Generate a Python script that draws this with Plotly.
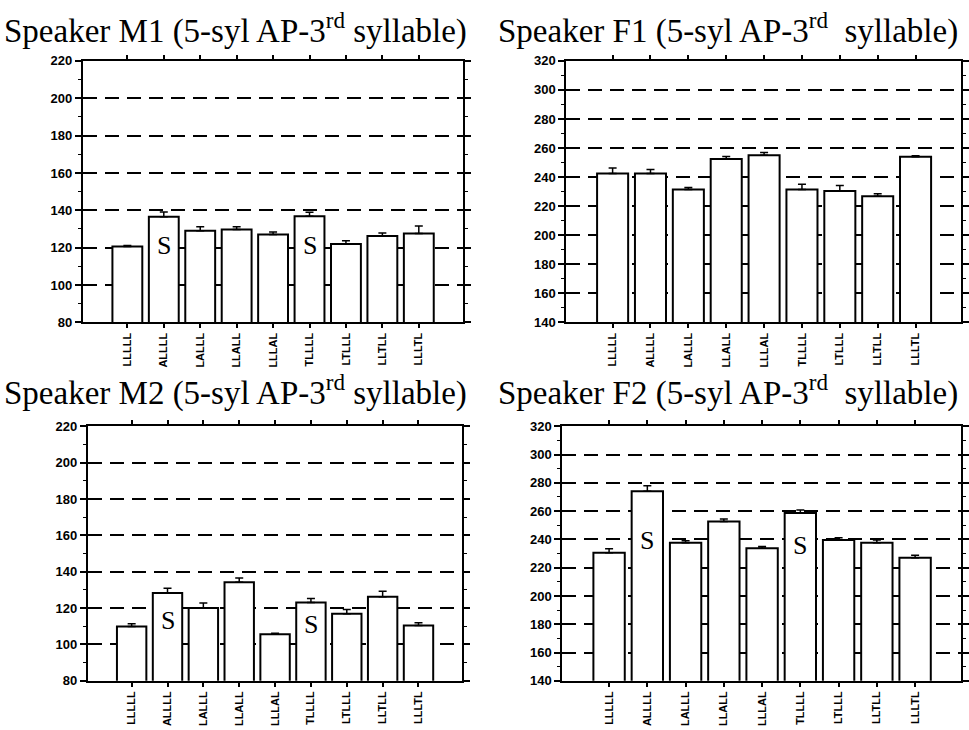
import plotly.graph_objects as go

W, H = 969, 730

categories = ["LLLLL", "ALLLL", "LALLL", "LLALL", "LLLAL", "TLLLL", "LTLLL", "LLTLL", "LLLTL"]

m1_mean = [120.6, 136.5, 129.0, 129.7, 127.1, 136.8, 122.0, 126.2, 127.6]
m1_err = [0.5, 2.6, 2.2, 1.5, 1.3, 2.2, 1.7, 1.7, 4.0]
f1_mean = [242.4, 242.4, 231.4, 252.4, 255.0, 231.4, 230.5, 226.9, 254.0]
f1_err = [3.8, 2.9, 1.4, 1.7, 1.9, 3.6, 3.8, 1.7, 0.7]
m2_mean = [109.9, 128.3, 120.0, 134.2, 105.6, 123.1, 116.9, 126.3, 110.4]
m2_err = [1.5, 2.6, 2.8, 2.4, 0.6, 2.2, 2.4, 2.9, 1.5]
f2_mean = [230.5, 274.0, 237.6, 252.6, 233.8, 258.6, 239.5, 237.6, 227.1]
f2_err = [2.9, 4.0, 1.4, 1.9, 1.2, 2.1, 1.7, 1.9, 1.7]

m1_s = [("ALLLL", 121), ("TLLLL", 121)]
f1_s = []
m2_s = [("ALLLL", 113), ("TLLLL", 111)]
f2_s = [("ALLLL", 239), ("TLLLL", 236)]

titles = [
    "Speaker M1 (5-syl AP-3<sup>rd</sup> syllable)",
    "Speaker F1 (5-syl AP-3<sup>rd</sup>  syllable)",
    "Speaker M2 (5-syl AP-3<sup>rd</sup> syllable)",
    "Speaker F2 (5-syl AP-3<sup>rd</sup>  syllable)",
]

# panel geometry in pixels: (x0, x1, ytop, ybottom), y range, title pos
panels = [
    dict(mean=m1_mean, err=m1_err, s=m1_s, box=(83, 463, 55, 322), yr=(80, 220), title=titles[0], tpos=(2, 22)),
    dict(mean=f1_mean, err=f1_err, s=f1_s, box=(567, 962, 55, 322), yr=(140, 320), title=titles[1], tpos=(497, 22)),
    dict(mean=m2_mean, err=m2_err, s=m2_s, box=(88, 462, 428, 688), yr=(80, 220), title=titles[2], tpos=(2, 392)),
    dict(mean=f2_mean, err=f2_err, s=f2_s, box=(563, 962, 428, 688), yr=(140, 320), title=titles[3], tpos=(497, 392)),
]

fig = go.Figure()
layout = dict(width=W, height=H, margin=dict(l=0, r=0, t=0, b=0), autosize=False,
              paper_bgcolor="white", plot_bgcolor="white", showlegend=False,
              bargap=0.18, annotations=[])

for i, p in enumerate(panels):
    n = i + 1
    xa = "x" if n == 1 else f"x{n}"
    ya = "y" if n == 1 else f"y{n}"
    fig.add_trace(go.Bar(
        x=categories, y=p["mean"], xaxis=xa, yaxis=ya,
        marker=dict(color="white", line=dict(color="black", width=2)),
        error_y=dict(type="data", symmetric=False, array=p["err"],
                     arrayminus=[0] * len(p["err"]), color="black",
                     thickness=1.5, width=4),
    ))
    x0, x1, yt, yb = p["box"]
    xkey = "xaxis" if n == 1 else f"xaxis{n}"
    ykey = "yaxis" if n == 1 else f"yaxis{n}"
    layout[xkey] = dict(
        domain=[x0 / W, x1 / W], anchor=ya, type="category",
        range=[-1.22, 9.2], showline=True, linecolor="black", linewidth=2,
        mirror="ticks", ticks="outside", ticklen=4, tickwidth=1.5, tickcolor="black",
        tickangle=-90, tickfont=dict(family="Liberation Sans, Arial", size=11, color="black", weight="bold"),
        showgrid=False, fixedrange=True,
    )
    lo, hi = p["yr"]
    layout[ykey] = dict(
        domain=[1 - yb / H, 1 - yt / H], anchor=xa, range=[lo, hi],
        tick0=lo, dtick=20, showline=True, linecolor="black", linewidth=2,
        mirror="ticks", ticks="outside", ticklen=6, tickwidth=1.5, tickcolor="black",
        tickfont=dict(family="Liberation Sans, Arial", size=13, color="black", weight="bold"),
        showgrid=True, gridcolor="black", gridwidth=2, griddash="14px,8px",
        zeroline=False,
        minor=dict(ticks="outside", ticklen=3, dtick=10, tickcolor="black", tickwidth=1, showgrid=False),
        fixedrange=True,
    )
    for cat, yv in p["s"]:
        layout["annotations"].append(dict(
            x=cat, y=yv, xref=xa, yref=ya, text="S", showarrow=False,
            font=dict(family="Liberation Serif, Times New Roman", size=26, color="black"),
        ))
    tx, ty = p["tpos"]
    layout["annotations"].append(dict(
        x=tx / W, y=1 - ty / H, xref="paper", yref="paper", xanchor="left", yanchor="middle",
        text=p["title"], showarrow=False,
        font=dict(family="Liberation Serif, Times New Roman", size=33, color="black"),
    ))

fig.update_layout(**layout)
fig.write_html("out.html")
